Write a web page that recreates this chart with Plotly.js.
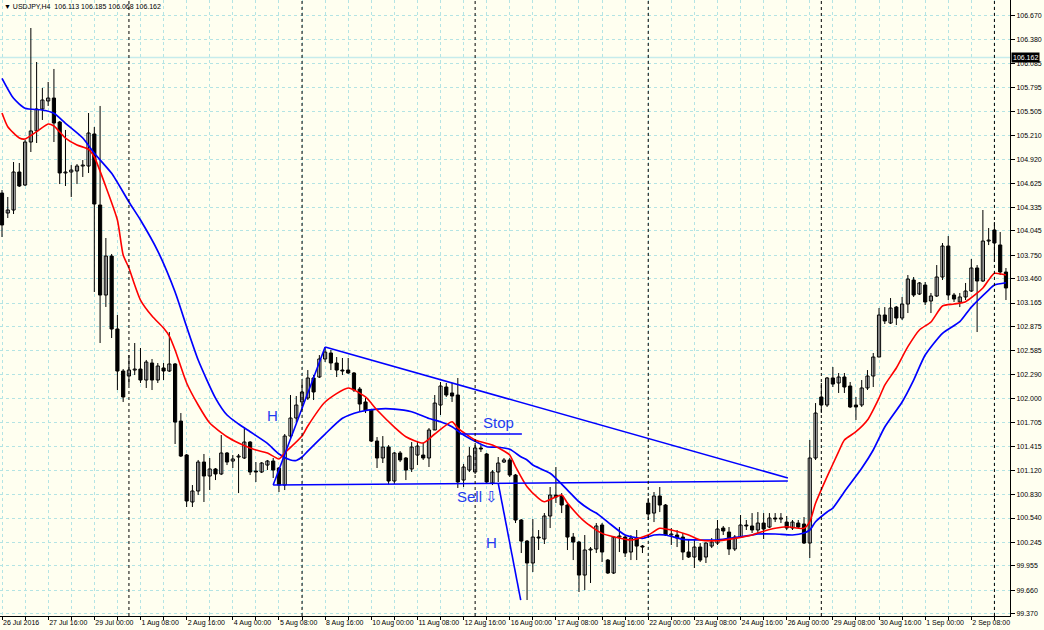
<!DOCTYPE html>
<html><head><meta charset="utf-8">
<script src="https://cdn.plot.ly/plotly-3.0.1.min.js"></script>
<style>html,body{margin:0;padding:0;background:#fffff0;}#chart{width:1044px;height:630px;}</style>
</head><body><div id="chart"></div>
<script>
// ---------------- data ----------------
const symbolTitle = "USDJPY,H4";
const quoteValues = ["106.113", "106.185", "106.068", "106.162"];
const lastPrice = 106.162;

const barOpen = [104.508,104.264,104.301,104.765,104.606,105.131,105.266,105.534,105.632,105.668,
105.375,104.753,104.765,104.777,104.838,104.838,105.229,104.362,103.263,103.739,
102.848,102.335,102.274,102.347,102.359,102.225,102.433,102.225,102.372,102.335,
102.421,101.724,101.310,100.736,100.870,101.224,101.053,101.139,101.078,101.334,
101.236,101.285,101.273,101.468,101.114,101.102,101.187,101.236,101.151,100.943,
101.541,101.761,101.957,102.005,102.250,102.262,102.482,102.555,102.433,102.347,
102.347,102.311,102.115,101.957,101.859,101.480,101.273,101.407,100.992,101.334,
101.273,101.139,101.309,101.309,101.273,101.615,101.920,102.140,102.067,102.042,
101.004,101.126,101.102,101.395,101.322,100.967,101.102,101.224,101.249,101.065,
100.516,100.259,99.991,100.308,100.284,100.565,100.821,100.809,100.699,100.308,
100.247,99.844,100.150,100.162,100.455,100.027,99.869,100.308,100.308,100.125,
100.296,100.198,100.723,100.601,100.809,100.699,100.333,100.333,100.308,100.125,
100.064,100.186,100.064,100.198,100.235,100.418,100.369,100.162,100.308,100.455,
100.443,100.394,100.479,100.430,100.540,100.528,100.491,100.418,100.479,100.467,
100.235,101.273,102.018,101.920,102.250,102.189,102.262,102.152,101.920,101.920,
102.128,102.274,102.506,103.019,102.921,103.116,102.982,103.153,103.446,103.275,
103.385,103.190,103.251,103.483,103.861,103.263,103.178,103.239,103.312,103.593,
103.434,103.922,104.057,103.874,103.544];

const barHigh = [104.545,104.460,104.887,104.875,105.156,106.523,106.108,105.791,105.864,106.023,
105.388,105.278,104.850,104.862,104.911,105.485,105.314,105.571,103.959,103.764,
103.019,102.359,102.530,102.677,102.616,102.470,102.482,102.433,102.433,102.811,
102.433,101.822,101.322,100.943,101.249,101.322,101.273,101.151,101.554,101.346,
101.310,101.322,101.651,101.480,101.224,101.224,101.249,101.273,101.163,101.566,
102.042,102.030,102.201,102.347,102.286,102.530,102.628,102.591,102.506,102.494,
102.494,102.323,102.140,102.005,101.859,101.529,101.541,101.431,101.346,101.358,
101.285,101.468,101.468,101.456,101.639,102.042,102.201,102.189,102.189,102.250,
101.200,101.407,101.456,101.431,101.334,101.126,101.285,101.273,101.273,101.078,
100.528,100.272,100.528,100.394,100.601,100.919,101.163,100.845,100.723,100.357,
100.259,100.333,100.186,100.479,100.479,100.040,100.321,100.430,100.333,100.333,
100.394,100.211,100.784,100.858,100.919,100.711,100.418,100.394,100.357,100.272,
100.272,100.235,100.247,100.296,100.516,100.443,100.430,100.333,100.577,100.516,
100.601,100.613,100.601,100.601,100.601,100.601,100.565,100.516,100.516,100.552,
101.493,101.944,102.189,102.262,102.384,102.311,102.311,102.201,102.018,102.225,
102.347,102.555,103.104,103.116,103.226,103.129,103.239,103.507,103.483,103.422,
103.422,103.288,103.629,103.898,103.983,103.288,103.288,103.410,103.703,103.629,
104.301,104.081,104.154,104.032,103.593];

const barLow = [103.971,104.203,104.252,104.582,104.594,105.009,105.119,105.400,105.571,105.131,
104.618,104.594,104.460,104.618,104.704,104.753,103.300,102.677,103.117,102.738,
102.103,101.957,102.164,102.286,102.189,102.128,102.103,102.189,102.225,102.323,
101.444,101.285,100.675,100.675,100.821,100.736,100.882,101.004,101.065,101.187,
101.151,100.845,101.261,101.065,100.980,101.090,101.126,101.029,100.858,100.882,
101.493,101.712,101.859,101.981,101.981,102.250,102.445,102.347,102.262,102.286,
102.298,102.079,101.835,101.822,101.468,101.151,101.212,100.955,100.955,101.224,
101.004,101.102,101.187,101.249,101.163,101.615,101.798,102.018,101.957,100.907,
100.919,101.102,101.078,101.346,100.955,100.943,100.980,101.212,101.041,100.479,
100.113,99.539,99.881,100.150,100.223,100.418,100.723,100.601,100.150,100.027,
99.637,99.661,99.747,100.113,100.003,99.857,99.857,100.125,100.064,100.027,
100.027,100.113,100.516,100.491,100.613,100.321,100.211,100.186,100.027,100.052,
99.930,100.003,99.991,100.174,100.211,100.333,100.089,100.138,100.296,100.394,
100.357,100.345,100.284,100.418,100.491,100.479,100.394,100.394,100.418,100.223,
100.052,101.249,101.822,101.896,102.140,102.067,102.067,101.883,101.737,101.896,
102.103,102.140,102.506,102.909,102.909,102.897,102.958,103.043,103.239,103.263,
103.141,103.043,103.239,103.446,103.202,103.178,103.116,103.202,103.300,102.811,
103.422,103.873,103.666,103.507,103.202];

const barClose = [104.118,104.301,104.765,104.594,105.131,105.266,105.534,105.644,105.668,105.363,
104.753,104.765,104.789,104.838,104.850,105.241,104.374,103.263,103.739,102.848,
102.335,102.018,102.347,102.359,102.225,102.445,102.225,102.396,102.335,102.421,
101.712,101.297,100.748,100.870,101.224,101.053,101.139,101.078,101.334,101.224,
101.261,101.297,101.468,101.102,101.102,101.212,101.236,101.126,100.943,101.541,
101.761,101.920,102.079,102.250,102.079,102.482,102.567,102.433,102.347,102.335,
102.311,102.103,101.932,101.859,101.480,101.273,101.407,100.992,101.334,101.249,
101.126,101.407,101.419,101.273,101.615,101.944,102.152,102.042,102.030,100.980,
101.163,101.297,101.395,101.383,100.980,101.102,101.212,101.249,101.065,100.516,
100.259,99.991,100.308,100.296,100.565,100.821,100.797,100.699,100.308,100.247,
99.844,100.150,100.162,100.443,100.125,99.869,100.308,100.321,100.113,100.296,
100.198,100.186,100.589,100.809,100.699,100.333,100.345,100.296,100.125,100.064,
100.186,100.027,100.235,100.247,100.406,100.382,100.162,100.308,100.455,100.443,
100.394,100.479,100.406,100.540,100.528,100.540,100.418,100.491,100.430,100.235,
101.273,101.822,101.920,102.250,102.176,102.262,102.140,101.896,101.896,102.128,
102.274,102.506,103.019,102.946,103.104,102.982,103.153,103.458,103.263,103.410,
103.178,103.251,103.483,103.861,103.263,103.214,103.239,103.312,103.593,103.434,
103.922,103.934,103.898,103.544,103.349];

// fast (red) moving average read at selected bars
const fastMaBar = [0,1,3,4,6,8,9,11,13,15,16,18,20,21,22,23,24,26,28,29,30,32,34,36,39,41,43,44,46,48,49,52,53,56,60,63,65,68,70,73,75,78,79,82,85,87,88,89,91,93,94,97,98,101,104,106,109,112,114,116,119,121,124,127,130,131,134,136,139,140,141,143,145,146,148,150,152,153,155,157,159,161,163,165,167,170,171,172,174];
const fastMa = [105.485,105.318,105.180,105.168,105.257,105.351,105.327,105.180,105.095,105.042,104.948,104.585,104.179,103.751,103.593,103.385,103.202,103.007,102.860,102.762,102.592,102.189,101.920,101.700,101.533,101.456,101.395,101.371,101.334,101.261,101.334,101.541,101.664,101.957,102.128,102.018,101.859,101.651,101.533,101.456,101.566,101.716,101.639,101.493,101.431,101.358,101.310,101.167,100.922,100.781,100.739,100.821,100.723,100.495,100.353,100.312,100.272,100.333,100.415,100.394,100.333,100.272,100.263,100.292,100.333,100.357,100.415,100.434,100.415,100.495,100.720,101.045,101.350,101.493,101.594,101.737,102.005,102.164,102.372,102.632,102.836,102.934,103.129,103.153,103.181,103.349,103.446,103.528,103.507];

// slow (blue) moving average read at selected bars
const slowMaBar = [0,2,4,7,9,11,14,16,19,22,24,27,30,32,34,37,39,41,43,46,48,50,51,52,53,56,59,62,65,68,71,74,76,78,80,84,86,88,90,91,92,95,98,100,102,103,105,108,111,113,115,118,121,124,127,130,131,134,137,139,140,141,143,144,146,149,151,153,156,158,160,163,166,168,171,172,174];
const slowMa = [105.909,105.665,105.543,105.522,105.482,105.360,105.180,104.993,104.749,104.399,104.179,103.800,103.300,102.876,102.470,102.005,101.798,101.688,101.594,101.452,101.322,101.249,101.243,101.285,101.358,101.566,101.758,101.838,101.871,101.871,101.838,101.755,101.716,101.655,101.554,101.411,101.404,101.379,101.285,101.249,101.187,101.086,100.882,100.739,100.638,100.601,100.491,100.333,100.292,100.333,100.333,100.280,100.272,100.272,100.300,100.333,100.345,100.345,100.333,100.357,100.394,100.495,100.614,100.662,100.861,101.147,101.371,101.651,101.957,102.225,102.530,102.796,102.937,103.116,103.324,103.385,103.413];

// analyst drawings (bar, price)
const drawStartBar   = [47.0,    56.0,    47.0,    86.0,    79.4];
const drawStartPrice = [100.943, 102.628, 100.943, 100.967, 101.566];
const drawEndBar     = [56.0,    136.2,   136.2,   89.9,    90.1];
const drawEndPrice   = [102.628, 101.029, 100.992, 99.539,  101.566];

const noteText  = ["H", "Stop", "Sell", "\u21E9", "H"];
const noteBar   = [46.8, 86.0, 81.0, 84.9, 84.9];
const notePrice = [101.786, 101.712, 100.797, 100.797, 100.247];

const priceTicks = ["106.670","106.380","106.085","105.795","105.505","105.210","104.920","104.625","104.335","104.045","103.750","103.460","103.165","102.875","102.585","102.290","102.000","101.705","101.415","101.120","100.830","100.540","100.245","99.955","99.660","99.370"];

const timeLabels = ["26 Jul 2016","27 Jul 16:00","29 Jul 00:00","1 Aug 08:00","2 Aug 16:00","4 Aug 00:00","5 Aug 08:00","8 Aug 16:00","10 Aug 00:00","11 Aug 08:00","12 Aug 16:00","16 Aug 00:00","17 Aug 08:00","18 Aug 16:00","22 Aug 00:00","23 Aug 08:00","24 Aug 16:00","26 Aug 00:00","29 Aug 08:00","30 Aug 16:00","1 Sep 00:00","2 Sep 08:00"];

// ---------------- build ----------------
const n = barOpen.length;
const idx = barOpen.map((_, i) => i);

// bar times: H4 bars from 26 Jul 2016 08:00, weekdays only
const barTime = [];
let t = Date.UTC(2016, 6, 26, 8);
while (barTime.length < n) {
  const d = new Date(t);
  const wd = d.getUTCDay();
  if (wd !== 0 && wd !== 6) barTime.push(d);
  t += 4 * 3600 * 1000;
}
const weekStarts = idx.filter(i => barTime[i].getUTCDay() === 1 && barTime[i].getUTCHours() === 0);

// wicks
const wx = [], wy = [];
for (let i = 0; i < n; i++) { wx.push(i, i, null); wy.push(barLow[i], barHigh[i], null); }

const bodyBase = idx.map(i => Math.min(barOpen[i], barClose[i]));
const bodyLen = idx.map(i => Math.max(Math.abs(barClose[i] - barOpen[i]), 0.004));
const bodyColor = idx.map(i => barClose[i] >= barOpen[i] ? '#ffffff' : '#000000');

const dx = [], dy = [];
for (let k = 0; k < drawStartBar.length; k++) {
  dx.push(drawStartBar[k], drawEndBar[k], null);
  dy.push(drawStartPrice[k], drawEndPrice[k], null);
}

const traces = [
  {type:'scatter', mode:'lines', x:wx, y:wy, line:{color:'#000', width:1}, hoverinfo:'skip'},
  {type:'bar', x:idx, base:bodyBase, y:bodyLen, width:0.55,
   marker:{color:bodyColor, line:{color:'#000', width:1}}, hoverinfo:'skip'},
  {type:'scatter', mode:'lines', x:slowMaBar, y:slowMa, line:{color:'#0000ff', width:1.7, shape:'spline', smoothing:0.6}, hoverinfo:'skip'},
  {type:'scatter', mode:'lines', x:fastMaBar, y:fastMa, line:{color:'#ff0000', width:1.6, shape:'spline', smoothing:0.6}, hoverinfo:'skip'},
  {type:'scatter', mode:'lines', x:dx, y:dy, line:{color:'#0000ff', width:1.6}, hoverinfo:'skip'}
];

const tickVals = [], tickText = [];
for (let i = 0; i < n; i += 4) {
  tickVals.push(i);
  tickText.push(i % 8 === 0 ? (timeLabels[i / 8] || '') : '');
}

const shapes = weekStarts.map(i => ({
  type:'line', xref:'x', yref:'paper', x0:i, x1:i, y0:0, y1:1,
  line:{color:'#000', width:1, dash:'dot'}, layer:'above'
}));
shapes.push({type:'line', xref:'paper', yref:'y', x0:0, x1:1, y0:lastPrice, y1:lastPrice,
  line:{color:'#c6ecec', width:1.5}, layer:'below'});

const annotations = noteText.map((s, k) => ({
  x: noteBar[k], y: notePrice[k], xref:'x', yref:'y', text: s, showarrow:false,
  font:{family:'Liberation Sans, Arial, sans-serif', size: 15, color:'#1e3cf0'}
}));
annotations.push({xref:'paper', yref:'paper', x:0.002, y:1, xanchor:'left', yanchor:'top', yshift:-1,
  text:'\u25BC ' + symbolTitle + '  ' + quoteValues.join(' '), showarrow:false,
  font:{family:'Liberation Sans, Arial, sans-serif', size:7, color:'#000'}});
annotations.push({xref:'paper', yref:'y', x:1, y:lastPrice, xanchor:'left', yanchor:'middle', xshift:1,
  text: lastPrice.toFixed(3), showarrow:false, bgcolor:'#000', borderpad:1,
  font:{family:'Liberation Sans, Arial, sans-serif', size:7, color:'#fff'}});

const layout = {
  width:1044, height:630,
  margin:{l:0, r:34, t:0, b:14, pad:0},
  paper_bgcolor:'#fffff0', plot_bgcolor:'#fffff0',
  showlegend:false, barmode:'overlay', bargap:0,
  xaxis:{range:[-0.347, 174.7], tickmode:'array', tickvals:tickVals, ticktext:tickText,
    tickangle:0, automargin:false,
    ticklabelposition:'outside right', ticks:'outside', ticklen:3, tickcolor:'#000',
    showgrid:true, gridcolor:'#b4e4e4', griddash:'3px,3px', gridwidth:1,
    showline:true, linecolor:'#000', linewidth:1, zeroline:false, fixedrange:true,
    tickfont:{family:'Liberation Sans, Arial, sans-serif', size:7, color:'#000'}},
  yaxis:{range:[99.344, 106.865], side:'right', tickmode:'array', automargin:false,
    tickvals: priceTicks.map(Number), ticktext: priceTicks,
    ticks:'outside', ticklen:4, tickcolor:'#000',
    showgrid:true, gridcolor:'#b4e4e4', griddash:'3px,3px', gridwidth:1,
    showline:true, linecolor:'#000', linewidth:1, zeroline:false, fixedrange:true,
    tickfont:{family:'Liberation Sans, Arial, sans-serif', size:7, color:'#000'}},
  shapes: shapes,
  annotations: annotations
};

Plotly.newPlot('chart', traces, layout, {displayModeBar:false, staticPlot:true});
</script>
</body></html>
